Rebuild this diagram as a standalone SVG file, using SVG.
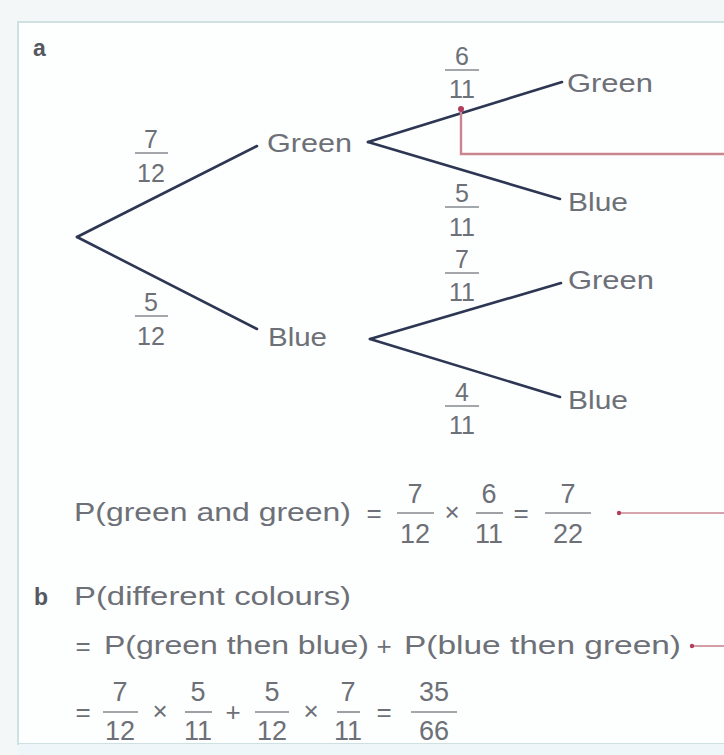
<svg xmlns="http://www.w3.org/2000/svg" width="724" height="755" viewBox="0 0 724 755">
<style>
text{font-family:"Liberation Sans","DejaVu Sans",sans-serif;fill:#6d7077}
.lbl{font-size:26px}
.fr{font-size:25px;text-anchor:middle}
.eq{font-size:26px}
.ef{font-size:27px;text-anchor:middle}
.op{font-size:26px;text-anchor:middle}
.bar{stroke:#85888e;stroke-width:1.6}
.br{stroke:#2d3652;stroke-width:2.6;fill:none;stroke-linecap:round}
.red{stroke:#c98690;stroke-width:2.4;fill:none}
.redt{stroke:#c98690;stroke-width:1.6;fill:none}
.tag{font-weight:bold;fill:#55585e;font-size:23px}
</style>
<rect x="0" y="0" width="724" height="755" fill="#f4f7f7"/>
<rect x="18" y="22" width="720" height="722" fill="#fdfefe" stroke="#cfe0e0" stroke-width="2"/>
<rect x="19" y="744" width="705" height="11" fill="#eef6fa"/>
<text class="tag" x="33" y="56">a</text>

<g id="connectors">
  <line class="br" x1="77" y1="237" x2="257" y2="146"/>
  <line class="br" x1="77" y1="237" x2="257" y2="329"/>
  <line class="br" x1="368" y1="142" x2="562" y2="82"/>
  <line class="br" x1="368" y1="142" x2="560" y2="199"/>
  <line class="br" x1="370" y1="339" x2="561" y2="283"/>
  <line class="br" x1="370" y1="339" x2="560" y2="397"/>
  <g id="p-7-12"><text class="fr" x="151" y="148">7</text><line class="bar" x1="135" y1="153" x2="168" y2="153"/><text class="fr" x="151" y="182">12</text></g>
  <g id="p-5-12"><text class="fr" x="151" y="311">5</text><line class="bar" x1="135" y1="316" x2="168" y2="316"/><text class="fr" x="151" y="345">12</text></g>
  <g id="p-6-11"><text class="fr" x="462" y="65">6</text><line class="bar" x1="445" y1="70" x2="479" y2="70"/><text class="fr" x="462" y="98">11</text></g>
  <g id="p-5-11"><text class="fr" x="462" y="202">5</text><line class="bar" x1="445" y1="207" x2="479" y2="207"/><text class="fr" x="462" y="236">11</text></g>
  <g id="p-7-11"><text class="fr" x="462" y="268">7</text><line class="bar" x1="445" y1="273" x2="479" y2="273"/><text class="fr" x="462" y="301">11</text></g>
  <g id="p-4-11"><text class="fr" x="462" y="401">4</text><line class="bar" x1="445" y1="406" x2="479" y2="406"/><text class="fr" x="462" y="434">11</text></g>
  <polyline class="red" points="461,109 461,154 724,154"/>
  <circle cx="461" cy="109" r="3" fill="#b33d5c"/>
  <line class="redt" x1="619" y1="513" x2="724" y2="513"/>
  <circle cx="619" cy="513" r="2.2" fill="#b33d5c"/>
  <line class="redt" x1="692" y1="646" x2="724" y2="646"/>
  <circle cx="692" cy="646" r="2.2" fill="#b33d5c"/>
</g>

<g id="root"><circle cx="77" cy="237" r="0.1" fill="none"/></g>
<g id="n-green1"><text class="lbl" x="267" y="152" textLength="85" lengthAdjust="spacingAndGlyphs">Green</text></g>
<g id="n-blue1"><text class="lbl" x="268" y="346" textLength="59" lengthAdjust="spacingAndGlyphs">Blue</text></g>
<g id="n-gg"><text class="lbl" x="567" y="92" textLength="86" lengthAdjust="spacingAndGlyphs">Green</text></g>
<g id="n-gb"><text class="lbl" x="568" y="211" textLength="60" lengthAdjust="spacingAndGlyphs">Blue</text></g>
<g id="n-bg"><text class="lbl" x="568" y="289" textLength="86" lengthAdjust="spacingAndGlyphs">Green</text></g>
<g id="n-bb"><text class="lbl" x="568" y="409" textLength="60" lengthAdjust="spacingAndGlyphs">Blue</text></g>

<g id="eq-a">
  <text class="eq" x="74" y="521" textLength="277" lengthAdjust="spacingAndGlyphs">P(green and green)</text>
  <text class="op" x="374" y="522">=</text>
  <text class="ef" x="415" y="503">7</text><line class="bar" x1="397" y1="513" x2="434" y2="513"/><text class="ef" x="415" y="543">12</text>
  <text class="op" x="452" y="521">×</text>
  <text class="ef" x="489" y="503">6</text><line class="bar" x1="476" y1="513" x2="503" y2="513"/><text class="ef" x="489" y="543">11</text>
  <text class="op" x="521" y="522">=</text>
  <text class="ef" x="568" y="503">7</text><line class="bar" x1="545" y1="513" x2="591" y2="513"/><text class="ef" x="568" y="543">22</text>
</g>

<g id="eq-b">
  <text class="tag" x="34" y="605">b</text>
  <text class="eq" x="74" y="605" textLength="277" lengthAdjust="spacingAndGlyphs">P(different colours)</text>
  <text class="op" x="83" y="655">=</text>
  <text class="eq" x="104" y="654" textLength="265" lengthAdjust="spacingAndGlyphs">P(green then blue)</text>
  <text class="op" x="384" y="655">+</text>
  <text class="eq" x="404" y="654" textLength="277" lengthAdjust="spacingAndGlyphs">P(blue then green)</text>
  <text class="op" x="83" y="721">=</text>
  <text class="ef" x="120" y="701">7</text><line class="bar" x1="103" y1="712" x2="138" y2="712"/><text class="ef" x="120" y="740">12</text>
  <text class="op" x="160" y="720">×</text>
  <text class="ef" x="198" y="701">5</text><line class="bar" x1="185" y1="712" x2="212" y2="712"/><text class="ef" x="198" y="740">11</text>
  <text class="op" x="233" y="721">+</text>
  <text class="ef" x="272" y="701">5</text><line class="bar" x1="255" y1="712" x2="289" y2="712"/><text class="ef" x="272" y="740">12</text>
  <text class="op" x="311" y="720">×</text>
  <text class="ef" x="348" y="701">7</text><line class="bar" x1="337" y1="712" x2="360" y2="712"/><text class="ef" x="348" y="740">11</text>
  <text class="op" x="384" y="721">=</text>
  <text class="ef" x="434" y="701">35</text><line class="bar" x1="411" y1="712" x2="457" y2="712"/><text class="ef" x="434" y="740">66</text>
</g>
</svg>
